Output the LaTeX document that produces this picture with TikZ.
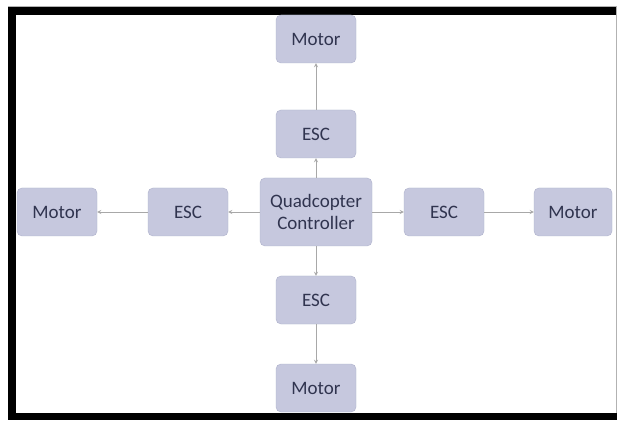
\documentclass[tikz,border=0pt]{standalone}
\usepackage{fontspec}
\setmainfont{Carlito}
\usetikzlibrary{positioning, arrows}
\usepackage{xcolor}
\definecolor{boxfill}{HTML}{C6C8DE}
\definecolor{boxline}{HTML}{AEB1CB}
\definecolor{boxtext}{HTML}{30344F}
\definecolor{linkgray}{HTML}{A8A8A8}

\begin{document}
\begin{tikzpicture}[x=1pt, y=1pt]
\tikzset{
->, % directed links
>=stealth, % small arrow heads
every node/.style={font=\fontsize{19}{21}\selectfont, text=boxtext},
block/.style={draw=boxline, fill=boxfill, rounded corners=5pt, minimum width=80pt, minimum height=48pt, inner sep=2pt, align=center},
link/.style={draw=linkgray, line width=0.8pt},
}
	% frame of the figure
	\useasboundingbox (0,0) rectangle (617,420);
	\fill[white] (0,0) rectangle (617,420);
	\fill[black] (8,0) rectangle (16,413);
	\fill[black] (8,405) rectangle (617,413);
	\fill[black] (8,0) rectangle (617,7);
	\draw[-, gray!60, line width=1pt] (8,413.5) -- (617,413.5);
	\draw[-, gray!60, line width=1pt] (616.5,7) -- (616.5,414);

	\node[block, minimum width=112pt, minimum height=68pt] (ctrl) at (316,208) {Quadcopter\\[1pt]Controller};
	\node[block, above of=ctrl, node distance=78pt] (escN) {ESC};
	\node[block, above of=escN, node distance=95pt] (motN) {Motor};
	\node[block, below of=ctrl, node distance=88pt] (escS) {ESC};
	\node[block, below of=escS, node distance=88pt] (motS) {Motor};
	\node[block, left of=ctrl, node distance=128pt] (escW) {ESC};
	\node[block, left of=escW, node distance=131pt] (motW) {Motor};
	\node[block, right of=ctrl, node distance=128pt] (escE) {ESC};
	\node[block, right of=escE, node distance=129pt, minimum width=78pt] (motE) {Motor};

	\draw[link] (ctrl) -- (escN);
	\draw[link] (escN) -- (motN);
	\draw[link] (ctrl) -- (escS);
	\draw[link] (escS) -- (motS);
	\draw[link] (ctrl) -- (escW);
	\draw[link] (escW) -- (motW);
	\draw[link] (ctrl) -- (escE);
	\draw[link] (escE) -- (motE);
\end{tikzpicture}
\end{document}
